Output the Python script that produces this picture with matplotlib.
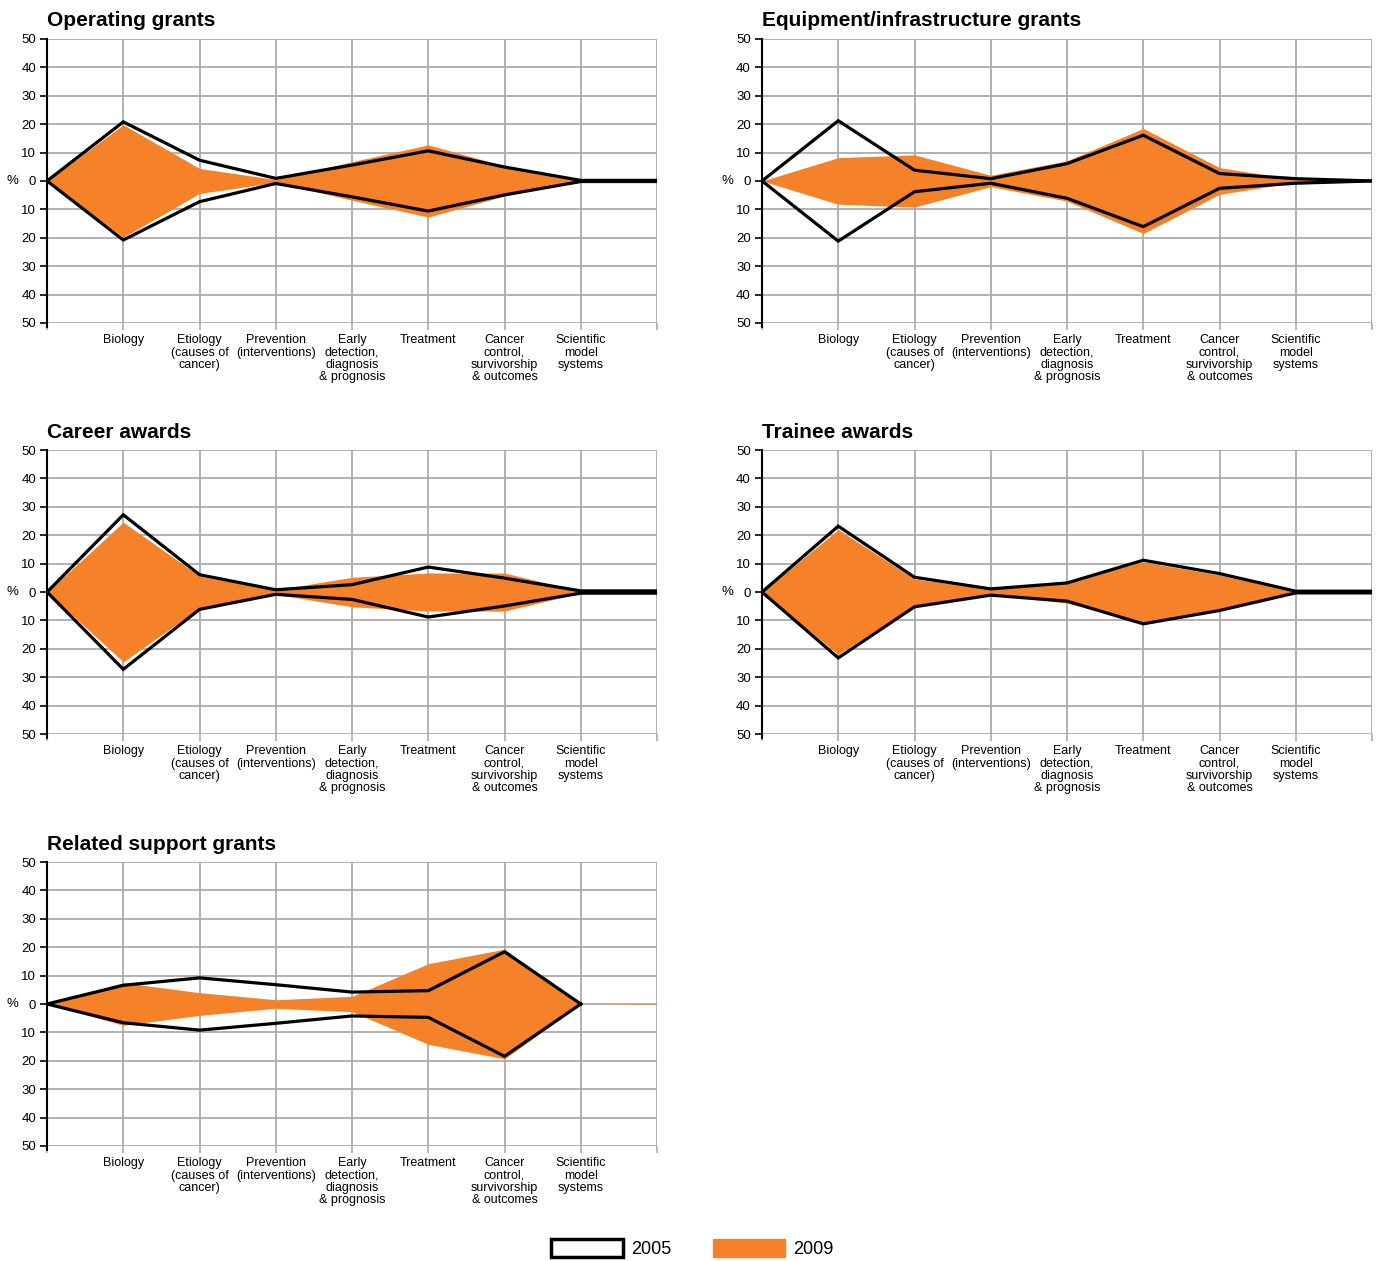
import numpy as np
import matplotlib
matplotlib.use("Agg")
import matplotlib.pyplot as plt
from matplotlib.patches import Patch

plt.rcParams['font.family'] = ['Liberation Sans', 'DejaVu Sans']

categories = ["Biology", "Etiology\n(causes of\ncancer)", "Prevention\n(interventions)",
              "Early\ndetection,\ndiagnosis\n& prognosis", "Treatment",
              "Cancer\ncontrol,\nsurvivorship\n& outcomes", "Scientific\nmodel\nsystems"]
titles = ["Operating grants", "Equipment/infrastructure grants", "Career awards",
          "Trainee awards", "Related support grants"]

# half-widths (%), one value per position: start, 7 categories, end
operating_2005 = [0, 20.8, 7.3, 0.9, 5.6, 10.6, 4.9, 0.2, 0.2]
operating_2009 = [0, 19.8, 4.4, 0.5, 6.8, 12.7, 5.3, 0.3, 0.2]
equipment_2005 = [0, 21.2, 3.8, 0.8, 6.1, 16.1, 2.6, 0.8, 0]
equipment_2009 = [0, 8.2, 9.2, 2.0, 7.1, 18.5, 4.7, 0.5, 0]
career_2005 = [0, 27.2, 6.1, 0.8, 2.6, 8.8, 4.9, 0.4, 0.4]
career_2009 = [0, 24.6, 5.6, 0.8, 5.2, 6.7, 6.7, 0.3, 0.3]
trainee_2005 = [0, 23.2, 5.2, 1.1, 3.2, 11.2, 6.5, 0.3, 0.3]
trainee_2009 = [0, 22.0, 4.6, 1.0, 3.9, 10.6, 6.0, 0.2, 0.2]
related_2005 = [0, 6.6, 9.2, 6.8, 4.2, 4.7, 18.4, 0, np.nan]
related_2009 = [0, 7.5, 4.0, 1.5, 2.7, 14.2, 19.3, 0, 0.1]

series_2005 = [operating_2005, equipment_2005, career_2005, trainee_2005, related_2005]
series_2009 = [operating_2009, equipment_2009, career_2009, trainee_2009, related_2009]

ORANGE = "#f58228"
GRID = "#ababab"

fig = plt.figure(figsize=(13.76, 12.61), dpi=100)
lefts = [0.0342, 0.5538]
bottoms = [0.7439, 0.4179, 0.0912]
w, h = 0.4433, 0.2252

for i, title in enumerate(titles):
    ax = fig.add_axes([lefts[i % 2], bottoms[i // 2], w, h])
    x = np.arange(len(series_2005[i]))
    v05 = np.array(series_2005[i], dtype=float)
    v09 = np.array(series_2009[i], dtype=float)

    for y in range(-50, 51, 10):
        ax.axhline(y, color=GRID, lw=1.3, zorder=0)
    for xi in range(1, 9):
        ax.axvline(xi, color=GRID, lw=1.3, zorder=0)

    ax.fill_between(x, -v09, v09, color=ORANGE, lw=0, zorder=1)
    ax.plot(x, v05, color="black", lw=2.3, zorder=2, solid_joinstyle="miter")
    ax.plot(x, -v05, color="black", lw=2.3, zorder=2, solid_joinstyle="miter")

    ax.set_xlim(0, 8)
    ax.set_ylim(-50, 50)
    for s in ["top", "right", "bottom"]:
        ax.spines[s].set_visible(False)
    ax.spines["left"].set_linewidth(1.5)
    ax.spines["left"].set_bounds(-51.5, 50)

    ax.set_yticks(range(-50, 51, 10))
    ax.set_yticklabels([str(abs(t)) for t in range(-50, 51, 10)], fontsize=9.5)
    ax.tick_params(axis="y", length=5, width=1.2, pad=3)
    ax.set_xticks(range(0, 9))
    ax.set_xticklabels([""] + categories + [""], fontsize=9, linespacing=1.05,
                       va="top")
    ax.tick_params(axis="x", length=5, width=1.2, color=GRID, pad=3)
    ax.text(-0.047, 0, "%", transform=ax.get_yaxis_transform(), ha="right",
            va="center", fontsize=9.5)
    ax.set_title(title, loc="left", fontsize=15, fontweight="bold", pad=9)

handles = [Patch(facecolor="white", edgecolor="black", lw=2.5, label="2005"),
           Patch(facecolor=ORANGE, edgecolor=ORANGE, label="2009")]
fig.legend(handles=handles, loc="lower center", bbox_to_anchor=(0.503, 0.0), ncol=2,
           frameon=False, fontsize=13, handlelength=4.0, handleheight=1.2,
           columnspacing=2.3, handletextpad=0.45, borderpad=0.15, borderaxespad=0)

fig.savefig("out.png", dpi=100)
